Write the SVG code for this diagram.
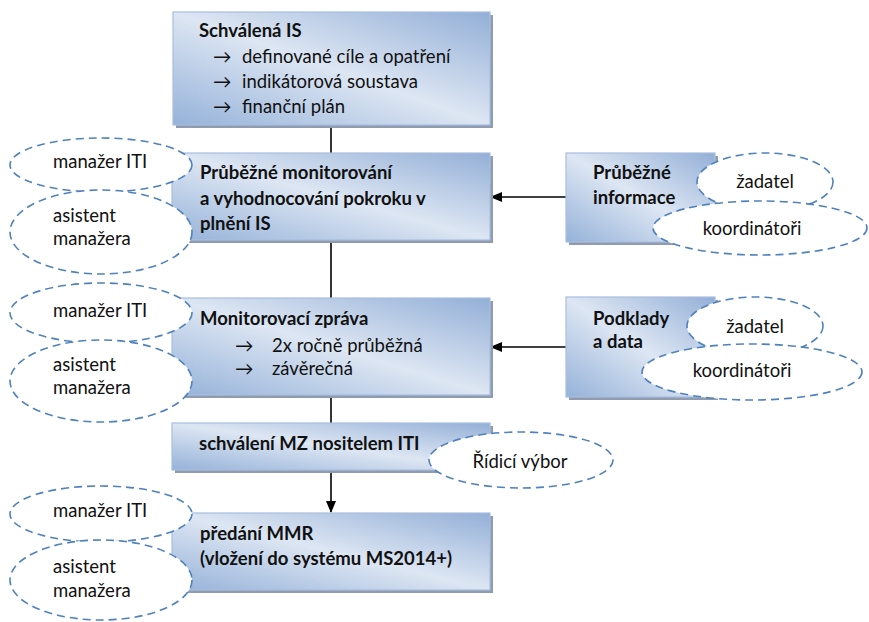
<svg xmlns="http://www.w3.org/2000/svg" width="869" height="622" viewBox="0 0 869 622">
<style>
.box{fill:url(#g);stroke:#a9bfdf;stroke-width:1.2}
.sh{fill:#8f9cb0}
.ell{fill:#fff;stroke:#4f81bd;stroke-width:1.6;stroke-dasharray:8 5}
text{font-family:Lato,"Open Sans","Liberation Sans",sans-serif;font-size:18.5px;fill:#111}
.b{font-weight:bold}
.c{text-anchor:middle}
.ln{stroke:#000;stroke-width:1.6;fill:none}
</style>
<defs>
<linearGradient id="g" x1="0" y1="1" x2="1" y2="0">
<stop offset="0" stop-color="#95b2d9"/>
<stop offset="0.5" stop-color="#dde6f3"/>
<stop offset="1" stop-color="#93afd7"/>
</linearGradient>
<marker id="ah" markerWidth="12" markerHeight="10" refX="11" refY="5" orient="auto" markerUnits="userSpaceOnUse">
<path d="M0,0 L12,5 L0,10 Z" fill="#000"/>
</marker>
<clipPath id="clip1"><rect x="173" y="12" width="317" height="104"/></clipPath>
</defs>

<g id="connectors">
<line class="ln" x1="331" y1="125" x2="331" y2="153"/>
<line class="ln" x1="331" y1="240" x2="331" y2="298"/>
<line class="ln" x1="331" y1="395" x2="331" y2="423"/>
<line class="ln" x1="331" y1="470" x2="331" y2="512" marker-end="url(#ah)"/>
<line class="ln" x1="566" y1="197" x2="491" y2="197" marker-end="url(#ah)"/>
<line class="ln" x1="566" y1="347" x2="491" y2="347" marker-end="url(#ah)"/>
</g>

<g id="schvalena-is">
<rect class="sh" x="176" y="15" width="317" height="113"/>
<rect class="box" x="173" y="12" width="317" height="113"/>
<g clip-path="url(#clip1)">
<text class="b" x="199" y="37">Schválená IS</text>
<text x="213" y="63">→<tspan x="242">definované cíle a opatření</tspan></text>
<text x="213" y="88">→<tspan x="242">indikátorová soustava</tspan></text>
<text x="213" y="113">→<tspan x="242">finanční plán</tspan></text>
</g>
</g>

<g id="prubezne-monitorovani">
<rect class="sh" x="175" y="156" width="318" height="87"/>
<rect class="box" x="172" y="153" width="318" height="87"/>
<text class="b" x="200" y="179">Průběžné monitorování</text>
<text class="b" x="200" y="205">a vyhodnocování pokroku v</text>
<text class="b" x="200" y="230">plnění IS</text>
</g>

<g id="ell-manazer-1">
<ellipse class="ell" cx="101" cy="165" rx="91" ry="27"/>
<text x="53" y="168">manažer ITI</text>
</g>
<g id="ell-asistent-1">
<ellipse class="ell" cx="101" cy="232" rx="91" ry="42"/>
<text x="53" y="222">asistent</text>
<text x="53" y="245">manažera</text>
</g>

<g id="prubezne-informace">
<rect class="sh" x="569" y="156" width="149" height="89"/>
<rect class="box" x="566" y="153" width="149" height="89"/>
<text class="b" x="593" y="179">Průběžné</text>
<text class="b" x="593" y="204">informace</text>
</g>
<g id="ell-zadatel-1">
<ellipse class="ell" cx="765" cy="182" rx="68" ry="29"/>
<text class="c" x="765" y="188">žadatel</text>
</g>
<g id="ell-koordinatori-1">
<ellipse class="ell" cx="760" cy="228" rx="107" ry="27"/>
<text class="c" x="752" y="235">koordinátoři</text>
</g>

<g id="monitorovaci-zprava">
<rect class="sh" x="175" y="301" width="318" height="97"/>
<rect class="box" x="172" y="298" width="318" height="97"/>
<text class="b" x="200" y="325">Monitorovací zpráva</text>
<text x="235" y="352">→<tspan x="272">2x ročně průběžná</tspan></text>
<text x="235" y="375">→<tspan x="272">závěrečná</tspan></text>
</g>
<g id="ell-manazer-2">
<ellipse class="ell" cx="101" cy="313" rx="91" ry="30"/>
<text x="53" y="317">manažer ITI</text>
</g>
<g id="ell-asistent-2">
<ellipse class="ell" cx="101" cy="381" rx="91" ry="41"/>
<text x="53" y="371">asistent</text>
<text x="53" y="394">manažera</text>
</g>

<g id="podklady-data">
<rect class="sh" x="569" y="300" width="149" height="100"/>
<rect class="box" x="566" y="297" width="149" height="100"/>
<text class="b" x="593" y="325">Podklady</text>
<text class="b" x="593" y="348">a data</text>
</g>
<g id="ell-zadatel-2">
<ellipse class="ell" cx="755" cy="326" rx="68" ry="29"/>
<text class="c" x="755" y="333">žadatel</text>
</g>
<g id="ell-koordinatori-2">
<ellipse class="ell" cx="752" cy="372" rx="110" ry="28"/>
<text class="c" x="742" y="377">koordinátoři</text>
</g>

<g id="schvaleni-mz">
<rect class="sh" x="175" y="426" width="318" height="47"/>
<rect class="box" x="172" y="423" width="318" height="47"/>
<text class="b" x="199" y="450">schválení MZ nositelem ITI</text>
</g>
<g id="ell-ridici-vybor">
<ellipse class="ell" cx="521" cy="460" rx="92" ry="28"/>
<text class="c" x="520" y="468">Řídicí výbor</text>
</g>

<g id="predani-mmr">
<rect class="sh" x="175" y="516" width="318" height="77"/>
<rect class="box" x="172" y="513" width="318" height="77"/>
<text class="b" x="200" y="540">předání MMR</text>
<text class="b" x="200" y="565">(vložení do systému MS2014+)</text>
</g>
<g id="ell-manazer-3">
<ellipse class="ell" cx="101" cy="514" rx="91" ry="28"/>
<text x="53" y="517">manažer ITI</text>
</g>
<g id="ell-asistent-3">
<ellipse class="ell" cx="101" cy="580" rx="91" ry="40"/>
<text x="53" y="573">asistent</text>
<text x="53" y="597">manažera</text>
</g>
</svg>
